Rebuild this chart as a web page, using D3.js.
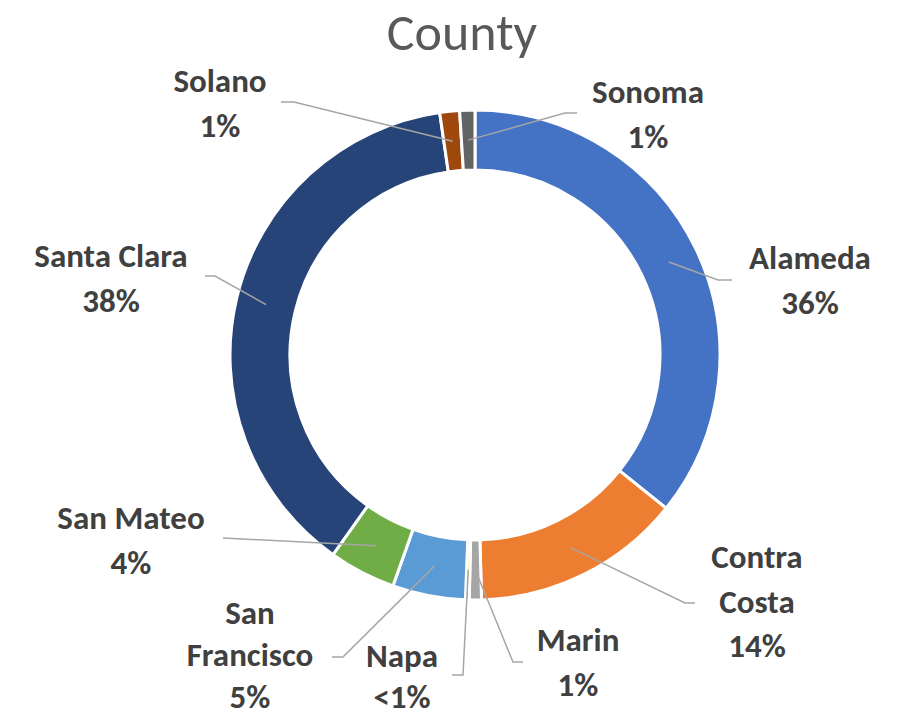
<!DOCTYPE html>
<html>
<head>
<meta charset="utf-8">
<script src="https://cdn.jsdelivr.net/npm/d3@7"></script>
<style>
  body { margin: 0; background: #fff; }
  text { font-family: Carlito, Calibri, Lato, "Open Sans", sans-serif; }
</style>
</head>
<body>
<div id="vis"></div>
<script>
// county shares (Excel order, clockwise from 12 o'clock)
var counties = ["Alameda", "Contra Costa", "Marin", "Napa", "San Francisco",
                "San Mateo", "Santa Clara", "Solano", "Sonoma"];
var shares = [35.7, 13.8, 0.8, 0.25, 4.8, 4.4, 37.8, 1.3, 1.0];
var pctLabels = ["36%", "14%", "1%", "<1%", "5%", "4%", "38%", "1%", "1%"];
var colors = ["#4472C4", "#ED7D31", "#A5A5A5", "#FFC000", "#5B9BD5",
              "#70AD47", "#264478", "#9E480E", "#636363"];

// label placement: text lines, label centre, line gap, leader start / elbow
var labelLayout = [
  { lines: ["Alameda"], x: 810, y: 258, gap: 44.5, start: [732, 280], elbow: [718, 280] },
  { lines: ["Contra", "Costa"], x: 757, y: 557, gap: 44.5, start: [695, 603], elbow: [685, 603] },
  { lines: ["Marin"], x: 578, y: 640, gap: 44.5, start: [523, 662], elbow: [513, 662] },
  { lines: ["Napa"], x: 402, y: 656, gap: 41, start: [452, 675], elbow: [463, 675] },
  { lines: ["San", "Francisco"], x: 250, y: 613, gap: 42, start: [332, 657], elbow: [343, 657] },
  { lines: ["San Mateo"], x: 131, y: 518, gap: 44.5, start: [223, 538], elbow: [223, 538] },
  { lines: ["Santa Clara"], x: 111, y: 256, gap: 44.5, start: [205, 276], elbow: [215, 276] },
  { lines: ["Solano"], x: 220, y: 81, gap: 44.5, start: [281, 102], elbow: [294, 102] },
  { lines: ["Sonoma"], x: 648, y: 92, gap: 44.5, start: [577, 113], elbow: [565, 113] }
];

var width = 897, height = 716;
var cx = 475, cy = 355, outerR = 245, innerR = 185;

var svg = d3.select("#vis")
  .append("svg")
  .attr("width", width)
  .attr("height", height);

svg.append("text")
  .attr("x", 462)
  .attr("y", 50)
  .attr("text-anchor", "middle")
  .style("font-size", "52px")
  .style("fill", "#595959")
  .text("County");

var rows = counties.map(function(c, i) {
  return { name: c, value: shares[i], pct: pctLabels[i], color: colors[i], layout: labelLayout[i] };
});

var pie = d3.pie().sort(null).value(function(d) { return d.value; });
var arc = d3.arc().innerRadius(innerR).outerRadius(outerR);
var midArc = d3.arc().innerRadius(215).outerRadius(215);

var g = svg.append("g").attr("transform", "translate(" + cx + "," + cy + ")");

var slices = pie(rows);

g.selectAll("path.slice")
  .data(slices)
  .enter()
  .append("path")
  .attr("class", "slice")
  .attr("d", arc)
  .attr("fill", function(d) { return d.data.color; })
  .attr("stroke", "#fff")
  .attr("stroke-width", 3);

// leader lines
svg.selectAll("polyline.leader")
  .data(slices)
  .enter()
  .append("polyline")
  .attr("class", "leader")
  .attr("points", function(d) {
    var c = midArc.centroid(d);
    var L = d.data.layout;
    return [L.start, L.elbow, [c[0] + cx, c[1] + cy]].join(" ");
  })
  .attr("fill", "none")
  .attr("stroke", "#A6A6A6")
  .attr("stroke-width", 1.5);

// labels
var lbl = svg.selectAll("text.lbl")
  .data(rows)
  .enter()
  .append("text")
  .attr("class", "lbl")
  .attr("text-anchor", "middle")
  .style("font-size", "33px")
  .style("font-weight", "bold")
  .style("fill", "#404040");

lbl.each(function(d) {
  var t = d3.select(this);
  var all = d.layout.lines.concat([d.pct]);
  all.forEach(function(s, k) {
    t.append("tspan")
      .attr("x", d.layout.x)
      .attr("y", d.layout.y + k * d.layout.gap)
      .attr("dominant-baseline", "central")
      .text(s);
  });
});
</script>
</body>
</html>
